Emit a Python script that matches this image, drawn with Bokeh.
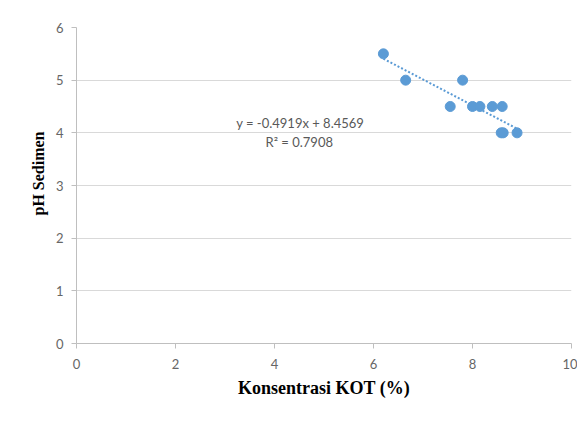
import math
from bokeh.plotting import figure
from bokeh.models import Label, Range1d, FixedTicker
from bokeh.embed import file_html
from bokeh.resources import INLINE

# Data
kot = [6.2, 6.65, 7.55, 7.8, 8.0, 8.15, 8.4, 8.6, 8.58, 8.62, 8.9]
ph = [5.5, 5.0, 4.5, 5.0, 4.5, 4.5, 4.5, 4.5, 4.0, 4.0, 4.0]
slope = -0.4919
intercept = 8.4569
eq_text = "y = -0.4919x + 8.4569"
r2_text = "R\u00b2 = 0.7908"
x_ticks = [0, 2, 4, 6, 8, 10]
y_ticks = [0, 1, 2, 3, 4, 5, 6]

blue = "#5B9BD5"
tick_font = "Lato"

p = figure(width=577, height=416, output_backend="svg", toolbar_location=None,
           x_range=Range1d(0, 10), y_range=Range1d(0, 6),
           min_border_left=76, min_border_right=6, min_border_top=27, min_border_bottom=73)
p.outline_line_color = None
p.background_fill_color = "white"
p.border_fill_color = "white"

# trend line
tx = [min(kot), max(kot)]
ty = [slope * v + intercept for v in tx]
p.line(tx, ty, line_color=blue, line_width=2, line_dash="2 2")

p.scatter(kot, ph, size=10, fill_color=blue, line_color=blue)

p.xaxis.ticker = FixedTicker(ticks=x_ticks)
p.yaxis.ticker = FixedTicker(ticks=y_ticks)
p.xgrid.grid_line_color = None
p.ygrid.grid_line_color = "#d9d9d9"
p.ygrid.grid_line_width = 1

for ax in (p.xaxis, p.yaxis):
    ax.axis_line_color = "#bfbfbf"
    ax.major_tick_line_color = "#bfbfbf"
    ax.major_tick_out = 5
    ax.major_tick_in = 0
    ax.minor_tick_line_color = None
    ax.major_label_text_font = tick_font
    ax.major_label_text_font_size = "13px"
    ax.major_label_text_color = "#666666"
    ax.axis_label_text_font = "Liberation Serif"
    ax.axis_label_text_font_style = "bold"
    ax.axis_label_text_color = "black"
    ax.axis_label_standoff = 6

p.xaxis.major_label_standoff = 10
p.yaxis.major_label_standoff = 8
p.xaxis.axis_label = "Konsentrasi KOT (%)"
p.xaxis.axis_label_text_font_size = "18px"
p.yaxis.axis_label = "\u00a0" * 6 + "pH Sedimen"
p.yaxis.axis_label_text_font_size = "16px"

p.add_layout(Label(x=4.52, y=4.19, text=eq_text, text_align="center", text_baseline="middle",
                   text_font=tick_font, text_font_size="13px", text_color="#595959"))
p.add_layout(Label(x=4.5, y=3.83, text=r2_text, text_align="center", text_baseline="middle",
                   text_font=tick_font, text_font_size="13px", text_color="#595959"))

open("out.html", "w").write(file_html(p, INLINE))
